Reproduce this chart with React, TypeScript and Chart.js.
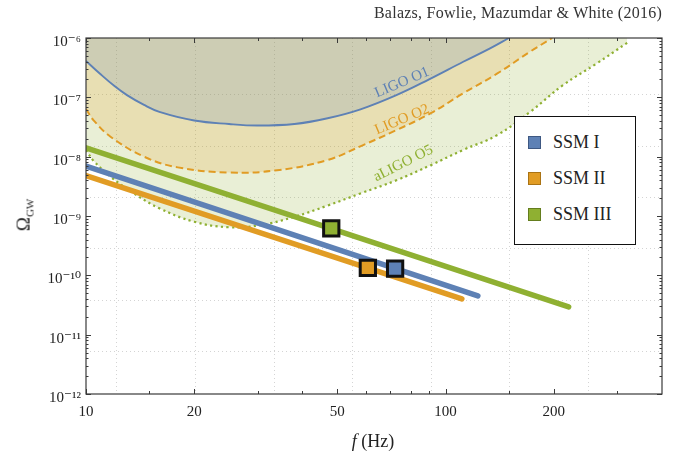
import React, { useEffect, useRef } from 'react';
import { Chart, registerables } from 'chart.js';

Chart.register(...registerables);

const SERIF = "'Liberation Serif', 'DejaVu Serif', serif";

// LIGO O1 sensitivity (solid)
const O1_FREQ = [10, 11, 12, 13, 14.5, 16, 20, 25, 30, 38, 47, 58, 73, 90, 112, 133, 150];
const O1_OMEGA = [4.1e-7, 2.42e-7, 1.55e-7, 1.09e-7, 7.45e-8, 5.7e-8, 4.07e-8, 3.55e-8, 3.35e-8, 3.55e-8, 4.44e-8, 6.28e-8, 1.09e-7, 2.01e-7, 3.98e-7, 6.7e-7, 1.0e-6];

// LIGO O2 sensitivity (dashed)
const O2_FREQ = [10, 10.5, 11.7, 14.5, 18, 25, 34, 47, 59, 73, 91, 112, 139, 172, 198];
const O2_OMEGA = [6.35e-8, 4.1e-8, 2.17e-8, 1.0e-8, 6.6e-9, 5.4e-9, 5.9e-9, 8.8e-9, 1.57e-8, 2.8e-8, 5.4e-8, 1.17e-7, 2.5e-7, 5.9e-7, 1.0e-6];

// aLIGO O5 sensitivity (dotted)
const O5_FREQ = [10, 10.5, 11.7, 13.6, 16, 20, 25, 30.5, 38, 47, 58, 73, 91, 112, 139, 172, 212, 263, 320];
const O5_OMEGA = [1.3e-8, 8.5e-9, 4.6e-9, 2.4e-9, 1.35e-9, 8.0e-10, 6.45e-10, 7.0e-10, 9.7e-10, 1.5e-9, 2.4e-9, 4.0e-9, 7.2e-9, 1.3e-8, 2.3e-8, 5.7e-8, 1.6e-7, 3.7e-7, 8.3e-7];

// SSM spectra (straight lines in log-log)
const SSM_NAMES = ['SSM I', 'SSM II', 'SSM III'];
const SSM1_FREQ = [10, 123];
const SSM1_OMEGA = [6.95e-9, 4.5e-11];
const SSM2_FREQ = [10, 111];
const SSM2_OMEGA = [4.8e-9, 4.0e-11];
const SSM3_FREQ = [10, 220];
const SSM3_OMEGA = [1.41e-8, 2.94e-11];

// SSM peak markers
const PEAK_FREQ = [72.4, 60.8, 48.1];
const PEAK_OMEGA = [1.3e-10, 1.34e-10, 6.2e-10];

// Curve labels
const CURVE_NAMES = ['LIGO O1', 'LIGO O2', 'aLIGO O5'];
const CURVE_LABEL_FREQ = [75.7, 75.7, 76.3];
const CURVE_LABEL_OMEGA = [1.78e-7, 4.2e-8, 7.7e-9];

// Axes
const X_MIN = 10;
const X_MAX = 400;
const X_TICKS = [10, 15, 20, 30, 40, 50, 60, 70, 80, 90, 100, 150, 200, 300];
const X_LABELS = [10, 20, 50, 100, 200];
const Y_EXPONENTS = [-12, -11, -10, -9, -8, -7, -6];

const BLUE = 'rgb(94,129,181)';
const ORANGE = 'rgb(225,156,36)';
const GREEN = 'rgb(143,176,50)';
const BLUE_F = 'rgba(94,129,181,0.2)';
const ORANGE_F = 'rgba(225,156,36,0.2)';
const GREEN_F = 'rgba(143,176,50,0.2)';
const SSM_COLORS = [BLUE, ORANGE, GREEN];
const SSM_DARK = ['rgb(62,88,130)', 'rgb(170,115,20)', 'rgb(100,125,30)'];
const LABEL_COLORS = [BLUE, ORANGE, GREEN];
const LABEL_ANGLES = [-23, -23, -27];

const SUP: Record<string, string> = { '-': '\u207B', '0': '\u2070', '1': '\u00B9', '2': '\u00B2', '3': '\u00B3', '4': '\u2074', '5': '\u2075', '6': '\u2076', '7': '\u2077', '8': '\u2078', '9': '\u2079' };
const toSup = (n: number) => String(n).split('').map((c) => SUP[c] || c).join('');

const pts = (xs: number[], ys: number[]) => xs.map((x, i) => ({ x, y: ys[i] }));

const framePlugin = {
  id: 'frameTicks',
  afterDatasetsDraw(chart: any) {
    const { ctx, chartArea: a, scales } = chart;
    const xs = scales.x;
    const ys = scales.y;
    ctx.save();
    // curve labels
    CURVE_NAMES.forEach((name, i) => {
      const px = xs.getPixelForValue(CURVE_LABEL_FREQ[i]);
      const py = ys.getPixelForValue(CURVE_LABEL_OMEGA[i]);
      ctx.save();
      ctx.translate(px, py);
      ctx.rotate((LABEL_ANGLES[i] * Math.PI) / 180);
      ctx.fillStyle = LABEL_COLORS[i];
      ctx.font = `15px ${SERIF}`;
      ctx.textAlign = 'center';
      ctx.textBaseline = 'middle';
      ctx.fillText(name, 0, 0);
      ctx.restore();
    });
    ctx.strokeStyle = '#3a3a3a';
    ctx.lineWidth = 1;
    const seg = (x1: number, y1: number, x2: number, y2: number) => {
      ctx.beginPath();
      ctx.moveTo(x1, y1);
      ctx.lineTo(x2, y2);
      ctx.stroke();
    };
    X_TICKS.forEach((v) => {
      const px = Math.round(xs.getPixelForValue(v)) + 0.5;
      const len = X_LABELS.includes(v) ? 5 : 3;
      seg(px, a.bottom, px, a.bottom - len);
      seg(px, a.top, px, a.top + len);
    });
    for (let e = -12; e <= -6; e++) {
      for (let m = 1; m <= 9; m++) {
        if (e === -6 && m > 1) break;
        const py = Math.round(ys.getPixelForValue(m * Math.pow(10, e))) + 0.5;
        const len = m === 1 ? 5 : 2.5;
        seg(a.left, py, a.left + len, py);
        seg(a.right, py, a.right - len, py);
      }
    }
    ctx.lineWidth = 1.2;
    ctx.strokeRect(a.left, a.top, a.right - a.left, a.bottom - a.top);
    ctx.restore();
  },
};

export default function App() {
  const ref = useRef<HTMLCanvasElement | null>(null);

  useEffect(() => {
    if (!ref.current) return;
    const curve = (data: any[], color: string, fillColor: string, dash: number[], width: number) => ({
      data,
      borderColor: color,
      backgroundColor: fillColor,
      borderWidth: width,
      borderDash: dash,
      fill: 'end',
      pointRadius: 0,
      tension: 0.4,
      order: 5,
    });
    const ssm = (data: any[], color: string) => ({
      data,
      borderColor: color,
      borderWidth: 5.5,
      borderCapStyle: 'round',
      fill: false,
      pointRadius: 0,
      order: 2,
    });
    const peak = (i: number) => ({
      data: [{ x: PEAK_FREQ[i], y: PEAK_OMEGA[i] }],
      showLine: false,
      pointStyle: 'rect',
      pointRadius: 10.8,
      pointBorderWidth: 3,
      pointBorderColor: '#111',
      pointBackgroundColor: SSM_COLORS[i],
      order: 0,
    });
    const chart = new Chart(ref.current, {
      type: 'line',
      data: {
        datasets: [
          curve(pts(O1_FREQ, O1_OMEGA), BLUE, BLUE_F, [], 1.9),
          curve(pts(O2_FREQ, O2_OMEGA), ORANGE, ORANGE_F, [7, 4], 2),
          curve(pts(O5_FREQ, O5_OMEGA), GREEN, GREEN_F, [2.2, 3.3], 2.2),
          ssm(pts(SSM1_FREQ, SSM1_OMEGA), BLUE),
          ssm(pts(SSM2_FREQ, SSM2_OMEGA), ORANGE),
          ssm(pts(SSM3_FREQ, SSM3_OMEGA), GREEN),
          peak(0),
          peak(1),
          peak(2),
        ] as any,
      },
      options: {
        animation: false,
        responsive: true,
        maintainAspectRatio: false,
        events: [],
        layout: { padding: { top: 38, right: 24, left: 0, bottom: 0 } },
        plugins: { legend: { display: false }, tooltip: { enabled: false }, title: { display: false } },
        scales: {
          x: {
            type: 'logarithmic',
            position: 'bottom',
            min: X_MIN,
            max: X_MAX,
            grid: { display: false, drawTicks: false },
            border: { display: false },
            afterBuildTicks: (s: any) => {
              s.ticks = X_LABELS.map((v) => ({ value: v }));
            },
            afterFit: (s: any) => {
              s.height = 59;
            },
            ticks: {
              autoSkip: false,
              maxRotation: 0,
              padding: 9,
              color: '#222',
              font: { family: SERIF, size: 15 },
              callback: (v: any) => String(v),
            },
          },
          y: {
            type: 'logarithmic',
            position: 'left',
            min: 1e-12,
            max: 1e-6,
            grid: { display: false, drawTicks: false },
            border: { display: false },
            afterBuildTicks: (s: any) => {
              s.ticks = Y_EXPONENTS.map((e) => ({ value: Math.pow(10, e) }));
            },
            afterFit: (s: any) => {
              s.width = 86;
            },
            ticks: {
              autoSkip: false,
              padding: 5,
              labelOffset: 4,
              color: '#222',
              font: { family: SERIF, size: 15 },
              callback: (v: any) => '10' + toSup(Math.round(Math.log10(v))),
            },
          },
          xg: {
            type: 'linear',
            position: 'top',
            min: 1,
            max: Math.log10(X_MAX),
            grid: { display: true, drawTicks: false, color: '#d4d4d4', lineWidth: 1 },
            border: { display: false, dash: [1, 3] },
            ticks: { display: false },
            afterBuildTicks: (s: any) => {
              s.ticks = [0, 1, 2, 3, 4, 5, 6].map((k) => ({ value: 1.0862 + k * 0.2186 }));
            },
            afterFit: (s: any) => {
              s.height = 0;
            },
          },
          yg: {
            type: 'linear',
            position: 'right',
            min: -12,
            max: -6,
            grid: { display: true, drawTicks: false, color: '#d4d4d4', lineWidth: 1 },
            border: { display: false, dash: [1, 3] },
            ticks: { display: false },
            afterBuildTicks: (s: any) => {
              s.ticks = [0, 1, 2, 3, 4, 5].map((k) => ({ value: -6.9557 - k * 0.8657 }));
            },
            afterFit: (s: any) => {
              s.width = 0;
            },
          },
        } as any,
      },
      plugins: [framePlugin],
    });
    return () => chart.destroy();
  }, []);

  return (
    <div style={{ position: 'fixed', left: 0, top: 0, width: 686, height: 453, background: '#fff', fontFamily: SERIF, color: '#222' }}>
      <canvas ref={ref} />
      <div style={{ position: 'absolute', right: 24, top: 4, fontSize: 16, letterSpacing: 0.25, whiteSpace: 'nowrap', color: '#333' }}>
        Balazs, Fowlie, Mazumdar &amp; White (2016)
      </div>
      <div style={{ position: 'absolute', left: 24, top: 215, transform: 'translate(-50%, -50%) rotate(-90deg)', fontSize: 19, whiteSpace: 'nowrap' }}>
        Ω<sub style={{ fontSize: 11, verticalAlign: '-0.35em' }}>GW</sub>
      </div>
      <div style={{ position: 'absolute', left: 373, top: 441, transform: 'translate(-50%, -50%)', fontSize: 18, whiteSpace: 'nowrap' }}>
        <i>f</i> (Hz)
      </div>
      <div style={{ position: 'absolute', left: 514, top: 116, width: 122, height: 129, border: '1.3px solid #111', boxSizing: 'border-box', background: '#fff' }}>
        {SSM_NAMES.map((name, i) => (
          <div key={name} style={{ position: 'absolute', left: 13, top: 14 + i * 36.2, height: 22, display: 'flex', alignItems: 'center' }}>
            <div style={{ width: 11, height: 11, background: SSM_COLORS[i], border: `1px solid ${SSM_DARK[i]}` }} />
            <span style={{ marginLeft: 12, fontSize: 18, whiteSpace: 'nowrap' }}>{name}</span>
          </div>
        ))}
      </div>
    </div>
  );
}
